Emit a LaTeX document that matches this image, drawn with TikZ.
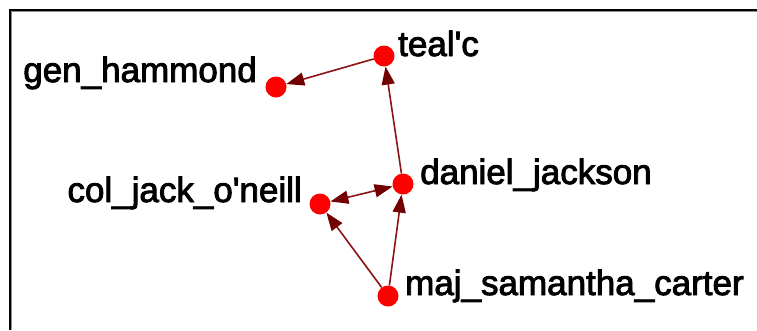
\documentclass[tikz,border=0pt]{standalone}
\usepackage{fontspec}
\newfontfamily\lblfont{Liberation Sans}[FakeBold=2.5]
\usetikzlibrary{arrows.meta}
\definecolor{nodered}{RGB}{255,0,0}
\definecolor{edgered}{RGB}{140,20,20}
\definecolor{tipred}{RGB}{115,0,0}
\begin{document}
\begin{tikzpicture}[x=1pt,y=-1pt,
  vertex/.style={circle,fill=nodered,minimum size=21pt,inner sep=0pt},
  lbl/.style={font=\lblfont\fontsize{35}{40}\selectfont,inner sep=0pt,text=black},
  link/.style={draw=edgered,line width=1.6pt,-{Triangle[length=18pt,width=13pt,fill=tipred,color=tipred]}},
  blink/.style={draw=edgered,line width=1.6pt,{Triangle[length=18pt,width=13pt,fill=tipred,color=tipred]}-{Triangle[length=18pt,width=13pt,fill=tipred,color=tipred]}}]
\useasboundingbox (0,0) rectangle (757,330);
\fill[white] (0,0) rectangle (757,330);
\draw[black!45,line width=1pt] (11.8,330) -- (11.8,11.8) -- (757,11.8);
\draw[black,line width=2pt] (10,330) -- (10,10) -- (757,10);
\node[vertex] (t) at (384,56) {};
\node[vertex] (g) at (276,87) {};
\node[vertex] (d) at (403,184) {};
\node[vertex] (c) at (320,204) {};
\node[vertex] (m) at (388,296) {};
\node[lbl,anchor=base west] (tl) at (398,56) {teal'c};
\node[lbl,anchor=base east] (gl) at (257,82) {gen\_hammond};
\node[lbl,anchor=base west] (dl) at (420,184) {daniel\_jackson};
\node[lbl,anchor=base east] (cl) at (302,202) {col\_jack\_o'neill};
\node[lbl,anchor=base west] (ml) at (405,295) {maj\_samantha\_carter};
\draw[link] (t) -- (g);
\draw[link] (d) -- (t);
\draw[blink] (c) -- (d);
\draw[link] (m) -- (c);
\draw[link] (m) -- (d);
\end{tikzpicture}
\end{document}
